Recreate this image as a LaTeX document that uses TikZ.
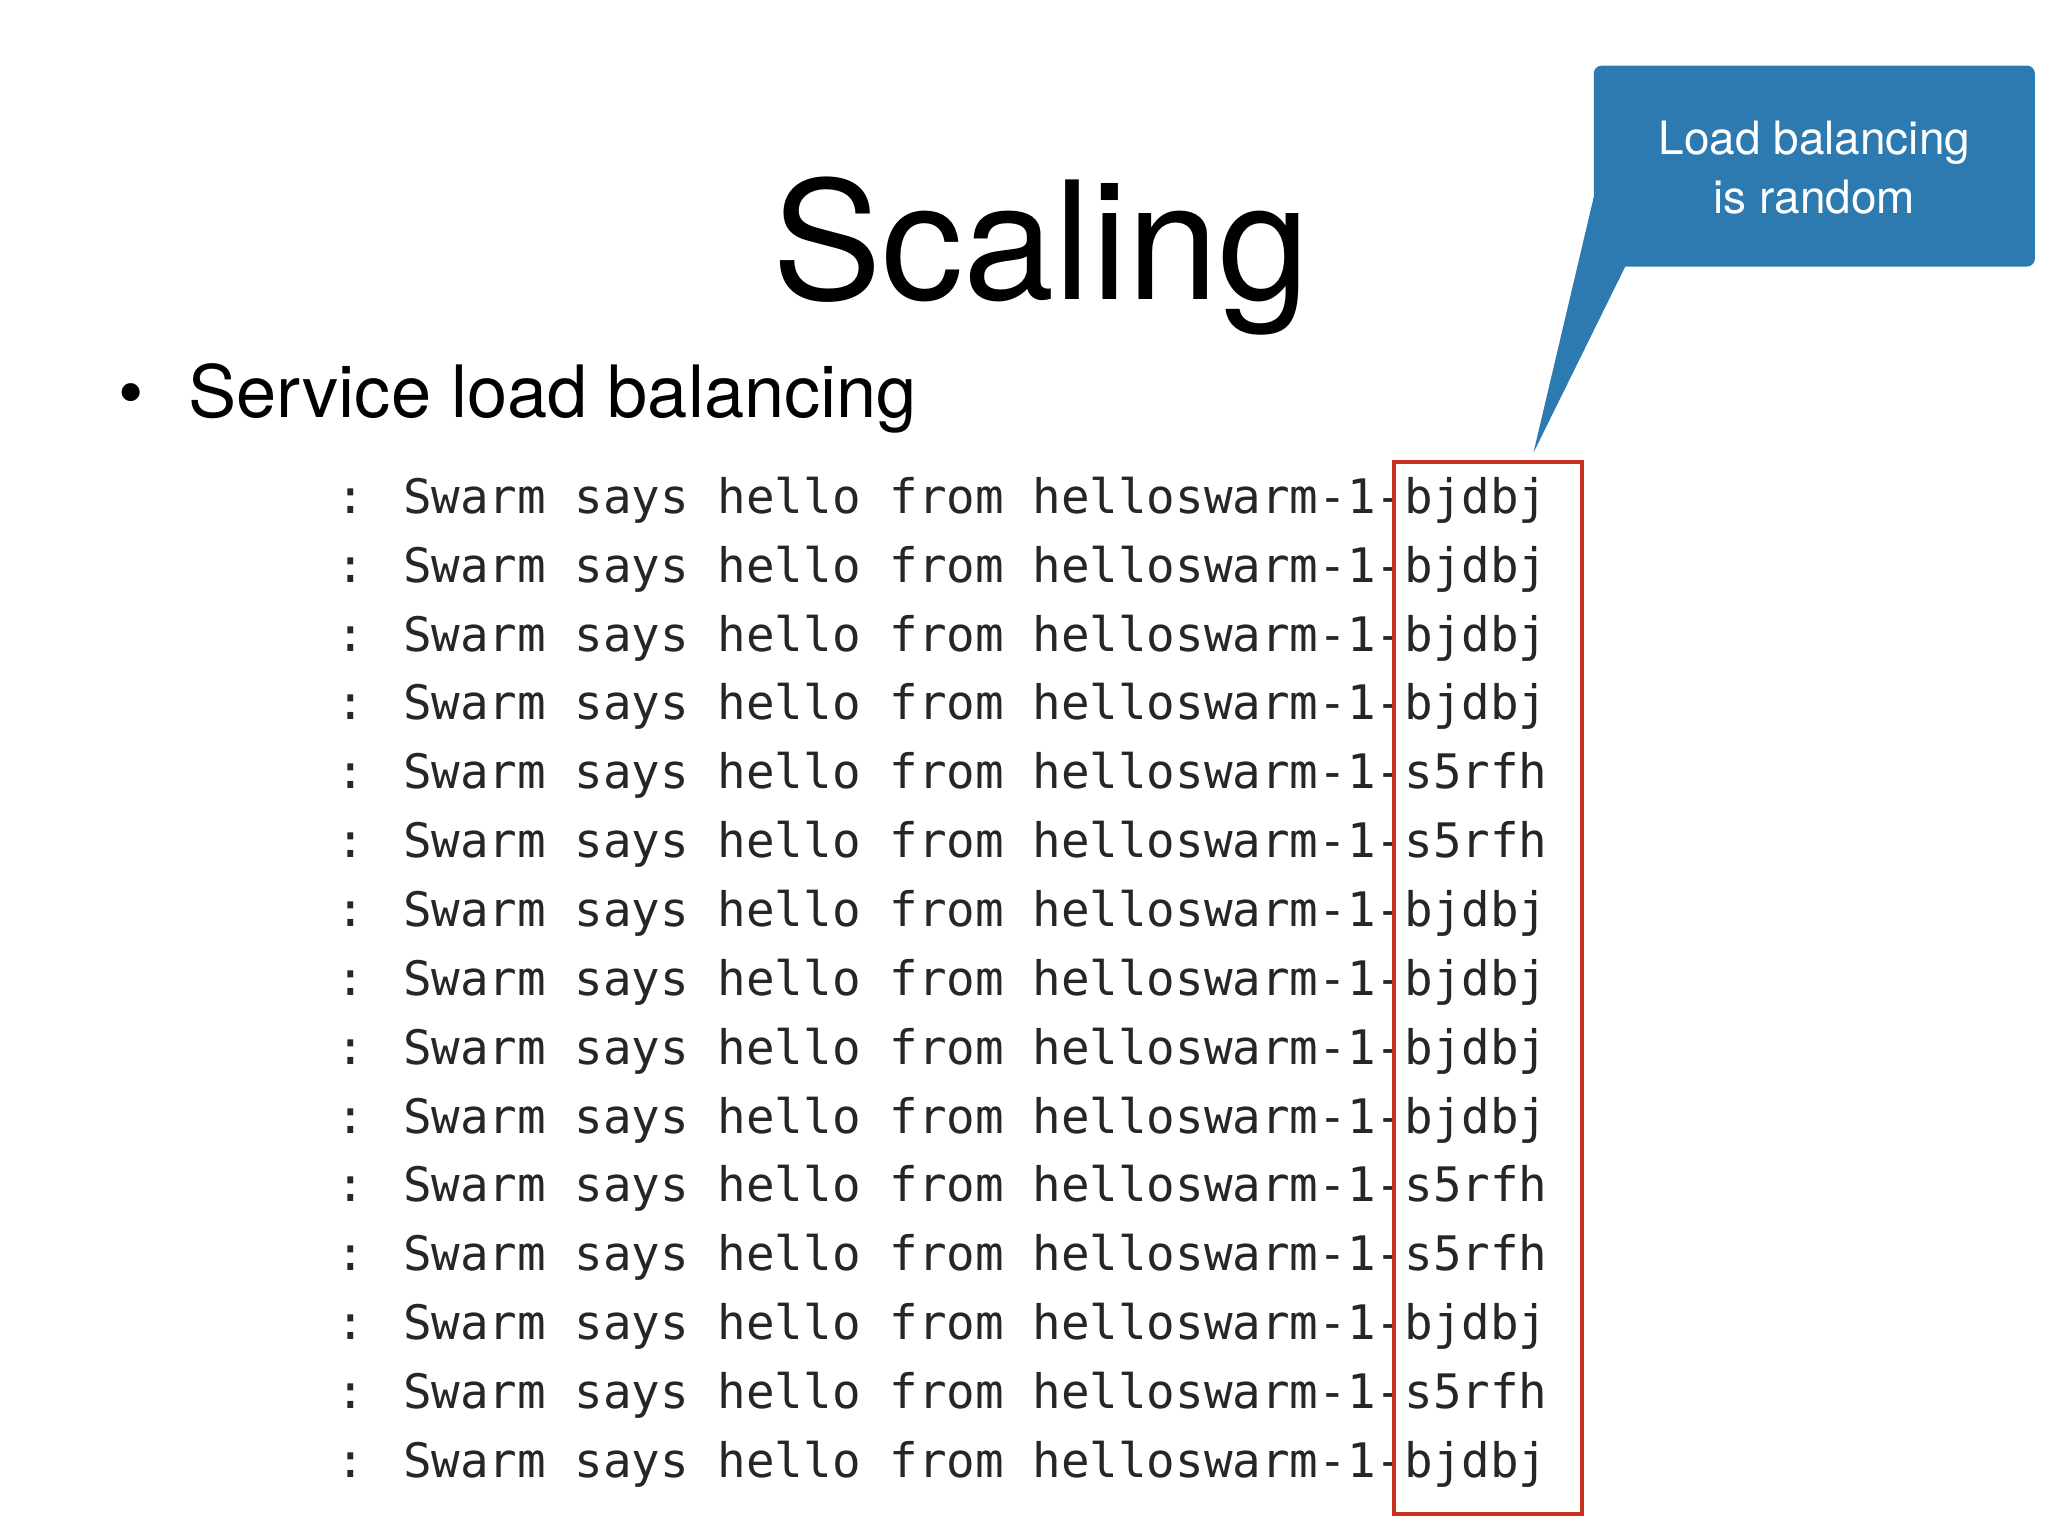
\documentclass[tikz,border=0pt]{standalone}
\usepackage{fontspec}
\setmainfont{TeX Gyre Heros}
\newfontfamily\mono{DejaVu Sans Mono}
\definecolor{boxred}{RGB}{200,50,30}
\definecolor{callblue}{RGB}{45,122,176}
\begin{document}
\begin{tikzpicture}[x=1pt,y=-1pt,
  logline/.style={anchor=base west,inner sep=0pt,font=\mono\fontsize{36.2}{40}\selectfont,text=black!85}]
\useasboundingbox (0,0) rectangle (1560,1170);
\node[anchor=base,inner sep=0pt,font=\fontsize{125}{140}\selectfont] (title) at (793,228) {Scaling};
\node[anchor=base west,inner sep=0pt,font=\fontsize{55}{60}\selectfont] (bul) at (90,318) {\textbullet\hspace{34pt}Service load balancing};
\foreach \i/\s in {0/bjdbj,1/bjdbj,2/bjdbj,3/bjdbj,4/s5rfh,5/s5rfh,6/bjdbj,7/bjdbj,8/bjdbj,9/bjdbj,10/s5rfh,11/s5rfh,12/bjdbj,13/s5rfh,14/bjdbj}
  \node[logline] (l\i) at (256,{391+52.45*\i}) {: Swarm says hello from helloswarm-1-\s};
\draw[boxred,line width=3] (1062,352) rectangle (1205,1153);
\fill[callblue,rounded corners=6] (1214,50) rectangle (1550,203);
\fill[callblue] (1214,150) -- (1238,203) -- (1168,345) -- cycle;
\node[text=white,align=center,font=\fontsize{35}{45}\selectfont] (call) at (1382,128) {Load balancing\\is random};
\end{tikzpicture}
\end{document}
